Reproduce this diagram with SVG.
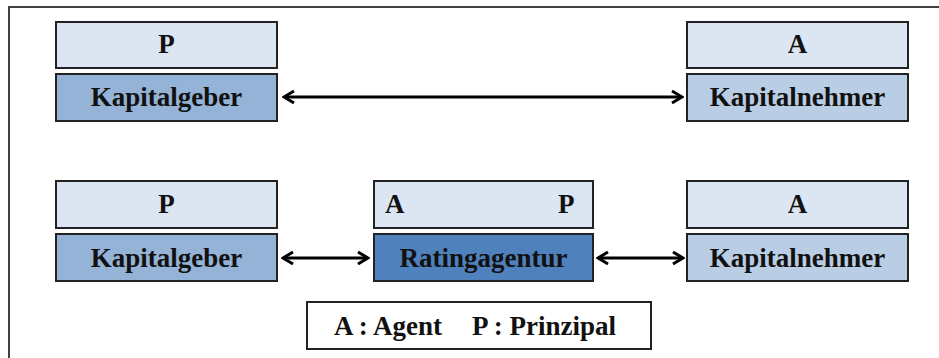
<svg xmlns="http://www.w3.org/2000/svg" width="939" height="358" viewBox="0 0 939 358">
<style>
.bx{stroke:#222;stroke-width:2}
.lt{fill:#dce6f2}
.kg{fill:#95b3d7}
.kn{fill:#b9cde5}
.ra{fill:#4f81bd}
.lg{fill:#fff}
text{font-family:'Liberation Serif','DejaVu Serif',serif;font-weight:700;font-size:27px;fill:#111}
.c{text-anchor:middle}
.con line{stroke:#000;stroke-width:3;marker-start:url(#ah);marker-end:url(#ah)}
</style>
<defs>
<marker id="ah" viewBox="0 0 14 16" markerWidth="14" markerHeight="16" refX="12" refY="8" orient="auto-start-reverse" markerUnits="userSpaceOnUse">
<path d="M2,2 L12,8 L2,14" fill="none" stroke="#000" stroke-width="3"/>
</marker>
</defs>
<rect width="939" height="358" fill="#fff"/>
<path d="M9,362 V7 H942" fill="none" stroke="#404040" stroke-width="2"/>
<g id="p1">
<rect class="bx lt" x="56" y="22" width="221" height="46"/>
<text class="c" x="166.5" y="53">P</text>
</g>
<g id="kapitalgeber1">
<rect class="bx kg" x="56" y="74" width="221" height="47"/>
<text class="c" x="166.5" y="106">Kapitalgeber</text>
</g>
<g id="a1">
<rect class="bx lt" x="687" y="22" width="221" height="46"/>
<text class="c" x="797.5" y="53">A</text>
</g>
<g id="kapitalnehmer1">
<rect class="bx kn" x="687" y="74" width="221" height="47"/>
<text class="c" x="797.5" y="106">Kapitalnehmer</text>
</g>
<g id="p2">
<rect class="bx lt" x="56" y="181" width="221" height="47"/>
<text class="c" x="166.5" y="213">P</text>
</g>
<g id="kapitalgeber2">
<rect class="bx kg" x="56" y="234" width="221" height="47"/>
<text class="c" x="166.5" y="267">Kapitalgeber</text>
</g>
<g id="ap">
<rect class="bx lt" x="374" y="181" width="219" height="47"/>
<text x="385" y="213">A</text>
<text x="558" y="213">P</text>
</g>
<g id="ratingagentur">
<rect class="bx ra" x="374" y="234" width="219" height="47"/>
<text class="c" x="483.5" y="267">Ratingagentur</text>
</g>
<g id="a2">
<rect class="bx lt" x="687" y="181" width="221" height="47"/>
<text class="c" x="797.5" y="213">A</text>
</g>
<g id="kapitalnehmer2">
<rect class="bx kn" x="687" y="234" width="221" height="47"/>
<text class="c" x="797.5" y="267">Kapitalnehmer</text>
</g>
<g id="legend">
<rect class="bx lg" x="307" y="302" width="344" height="47"/>
<text x="334" y="335">A : Agent</text>
<text x="472" y="335">P : Prinzipal</text>
</g>
<g class="con" id="connectors">
<line x1="284" y1="97" x2="682" y2="97"/>
<line x1="283" y1="258" x2="368" y2="258"/>
<line x1="598" y1="258" x2="683" y2="258"/>
</g>
</svg>
